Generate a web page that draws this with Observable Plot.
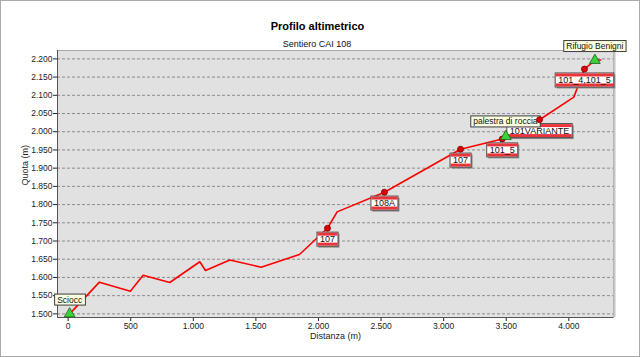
<!DOCTYPE html>
<html>
<head>
<meta charset="utf-8">
<script src="https://cdn.jsdelivr.net/npm/d3@7"></script>
<script src="https://cdn.jsdelivr.net/npm/@observablehq/plot@0.6"></script>
<style>
  html, body { margin: 0; padding: 0; background: #fff; }
  #wrap { position: relative; width: 640px; height: 357px; overflow: hidden; }
  #border { position: absolute; left: 0; top: 0; width: 638px; height: 355px; border: 1px solid #a9a9a9; pointer-events: none; }
  #chart svg { display: block; }
</style>
</head>
<body>
<div id="wrap"><div id="chart"></div><div id="border"></div></div>
<script>
// ---- data ----
const title = "Profilo altimetrico";
const subtitle = "Sentiero CAI 108";
const xLabel = "Distanza (m)";
const yLabel = "Quota (m)";

const distance  = [12, 250, 497, 599, 812, 1052, 1097, 1292, 1542, 1848, 2072, 2149, 2527, 3135, 3468, 3497, 3766, 4040, 4125, 4208, 4255];
const elevation = [1500, 1587, 1562, 1606, 1586, 1643, 1619, 1648, 1628, 1663, 1735, 1780, 1834, 1952, 1980, 1987, 2033, 2095, 2172, 2196, 2197];

const junctionDistance  = [2072, 2527, 3135, 3468, 3766, 4125];
const junctionElevation = [1735, 1834, 1952, 1980, 2033, 2172];
const junctionTrail     = ["107", "108A", "107", "101_5", "101VARIANTE", "101_4,101_5"];

const waypointDistance  = [12, 3497, 4208];
const waypointElevation = [1500, 1987, 2196];

const placeName      = ["Sciocc", "palestra di roccia", "Rifugio Benigni"];
const placeDistance  = [12, 3766, 4208];
const placeElevation = [1500, 2033, 2196];

const xTicks = [0, 500, 1000, 1500, 2000, 2500, 3000, 3500, 4000];
const yTicks = [1500, 1550, 1600, 1650, 1700, 1750, 1800, 1850, 1900, 1950, 2000, 2050, 2100, 2150, 2200];

// ---- tables built from the arrays ----
const profile   = distance.map((d, i) => ({x: d, y: elevation[i]}));
const junctions = junctionDistance.map((d, i) => ({x: d, y: junctionElevation[i], label: junctionTrail[i]}));
const waypoints = waypointDistance.map((d, i) => ({x: d, y: waypointElevation[i]}));
const places    = placeName.map((n, i) => ({x: placeDistance[i], y: placeElevation[i], label: n}));
const placesAbove = places.filter((p, i) => i !== 1);
const placesLeft  = places.filter((p, i) => i === 1);

const itLocale = d3.formatLocale({decimal: ",", thousands: ".", grouping: [3], currency: ["€", ""]});
const fmt = itLocale.format(",d");

const FONT = "'Liberation Sans', Arial, sans-serif";

const chart = Plot.plot({
  width: 640,
  height: 357,
  marginLeft: 57,
  marginRight: 27,
  marginTop: 50,
  marginBottom: 40,
  style: {fontFamily: FONT, fontSize: "8.5px", color: "#222", background: "transparent", overflow: "visible"},
  x: {domain: [-85, 4357], ticks: xTicks, tickFormat: fmt, tickSize: 4, tickPadding: 1.5, label: null},
  y: {domain: [1490, 2223], ticks: yTicks, tickFormat: fmt, tickSize: 4, tickPadding: 1, label: null},
  marks: [
    Plot.frame({fill: "#e1e1e1", stroke: "#a8a8a8"}),
    Plot.ruleY(yTicks, {stroke: "#8c8c8c", strokeDasharray: "3,2", strokeWidth: 1}),
    Plot.ruleX([4357], {stroke: "#c4c4c4", strokeWidth: 2, dx: 1}),
    Plot.ruleX([-85], {stroke: "#555"}),
    Plot.ruleY([1490], {stroke: "#555"}),
    Plot.line(profile, {x: "x", y: "y", stroke: "#ff0000", strokeWidth: 1.6}),
    Plot.text(junctions, {x: "x", y: "y", text: "label", dy: 11, fontSize: 9, fill: "#111"}),
    Plot.text(placesAbove, {x: "x", y: "y", text: "label", dy: -14, fontSize: 8.5, fill: "#111"}),
    Plot.text(placesLeft, {x: "x", y: "y", text: "label", dx: -2, dy: 2, textAnchor: "end", fontSize: 8.5, fill: "#111"}),
    Plot.dot(junctions, {x: "x", y: "y", r: 3, fill: "#e00000", stroke: "#7a0000", strokeWidth: 0.8}),
    Plot.dot(waypoints, {x: "x", y: "y", r: 4, symbol: "triangle", fill: "#3ad13a", stroke: "#1c5e1c", strokeWidth: 0.8}),
    Plot.text([title], {frameAnchor: "top", dx: -18, dy: -28, fontSize: 11, fontWeight: "bold", fill: "#000"}),
    Plot.text([subtitle], {frameAnchor: "top", dx: -18.5, dy: -10, fontSize: 9, fill: "#111"}),
    Plot.text([yLabel], {frameAnchor: "left", dx: -32, dy: 1.5, rotate: -90, fontSize: 9, fill: "#222"}),
    Plot.text([xLabel], {frameAnchor: "bottom", dy: 21.5, fontSize: 9, fill: "#222"})
  ]
});

document.getElementById("chart").append(chart);
const svg = chart.tagName.toLowerCase() === "svg" ? chart : chart.querySelector("svg");
const NS = "http://www.w3.org/2000/svg";
function rect(g, x, y, w, h, attrs) {
  const r = document.createElementNS(NS, "rect");
  r.setAttribute("x", x); r.setAttribute("y", y);
  r.setAttribute("width", w); r.setAttribute("height", h);
  for (const k in attrs) r.setAttribute(k, attrs[k]);
  g.appendChild(r);
}
const signSet = new Set(junctionTrail);
const tipSet = new Set(placeName);
svg.querySelectorAll("text").forEach(t => {
  const s = t.textContent;
  const isSign = signSet.has(s), isTip = tipSet.has(s);
  if (!isSign && !isTip) return;
  const b = t.getBBox();
  const g = document.createElementNS(NS, "g");
  if (t.getAttribute("transform")) g.setAttribute("transform", t.getAttribute("transform"));
  t.parentNode.insertBefore(g, t);
  if (isSign) {
    // trail sign: red-white-red box
    const w = b.width + 6, h = 14;
    const x = b.x + b.width / 2 - w / 2, y = b.y + b.height / 2 - h / 2;
    rect(g, x + 1.5, y + 1.5, w, h, {fill: "#8a8a8a", stroke: "none"});
    rect(g, x, y, w, h, {fill: "#fff", stroke: "#4a4a4a", "stroke-width": 1});
    rect(g, x + 0.5, y + 0.5, w - 1, 3, {fill: "#e8343a", stroke: "none"});
    rect(g, x + 0.5, y + h - 3.5, w - 1, 3, {fill: "#e8343a", stroke: "none"});
  } else {
    // place name: pale yellow tooltip box
    const w = b.width + 5, h = 11;
    const x = b.x + b.width / 2 - w / 2, y = b.y + b.height / 2 - h / 2;
    rect(g, x, y, w, h, {fill: "#ffffe1", stroke: "#3c3c3c", "stroke-width": 1});
  }
});
</script>
</body>
</html>
